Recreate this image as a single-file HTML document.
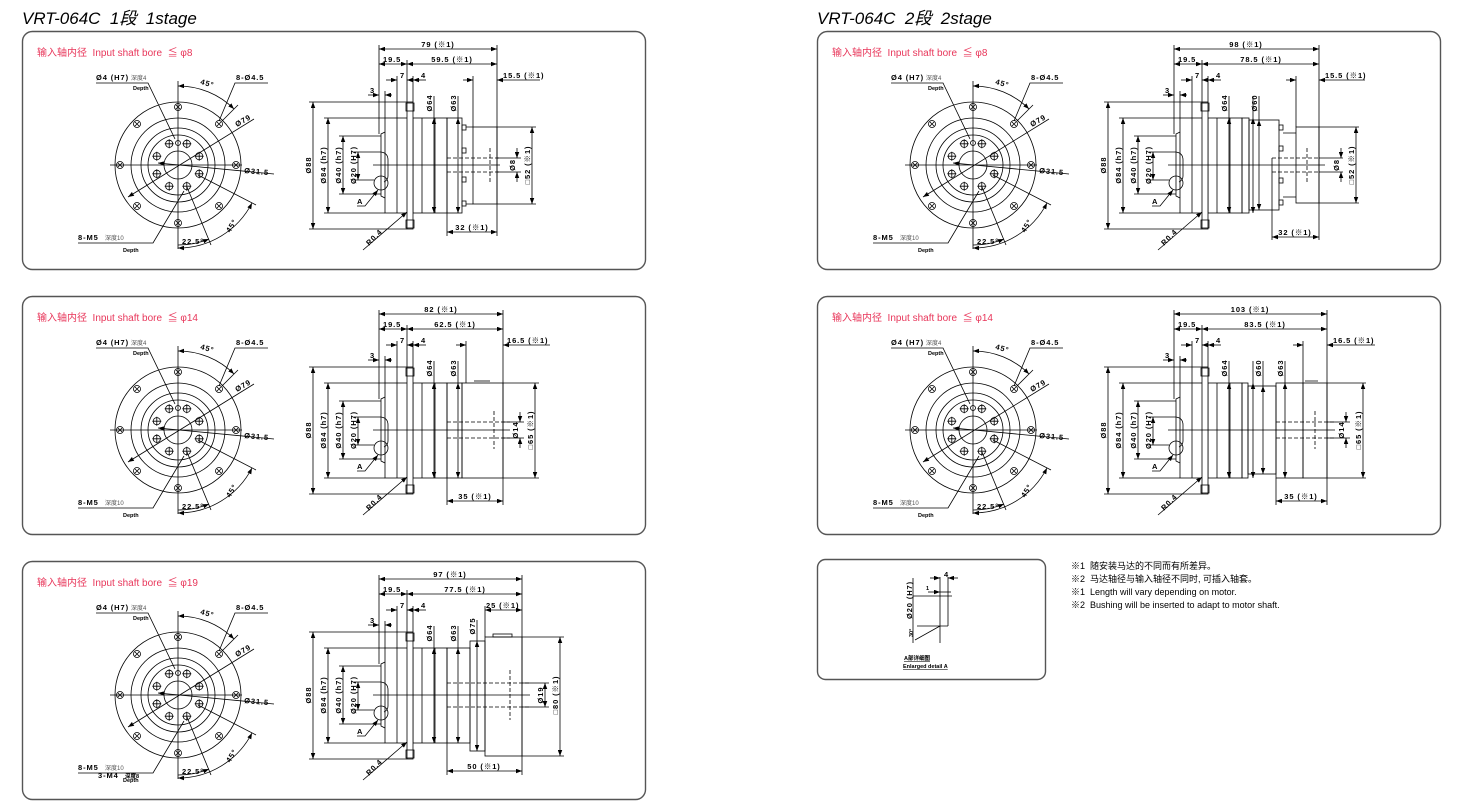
<!DOCTYPE html>
<html><head><meta charset="utf-8"><style>
html,body{margin:0;padding:0;background:#fff;}
svg{display:block;}
text{white-space:pre;}
.t{font-family:"Liberation Sans","Noto Sans CJK SC",sans-serif;font-size:7.5px;font-weight:bold;letter-spacing:0.9px;fill:#000;}
.s{font-family:"Liberation Sans","Noto Sans CJK SC",sans-serif;font-size:6px;fill:#555;}
.dp{font-family:"Liberation Sans",sans-serif;font-size:5.5px;font-weight:bold;fill:#000;}
.hd{font-family:"Liberation Sans","Noto Sans CJK SC",sans-serif;font-size:10px;fill:#e8365a;}
.ti{font-family:"Liberation Sans","Noto Sans CJK JP",sans-serif;font-size:17px;font-style:italic;fill:#000;}
.nt{font-family:"Liberation Sans","Noto Sans CJK SC",sans-serif;font-size:9px;fill:#000;}
.g line,.g path,.g rect,.g circle{stroke:#000;stroke-width:0.8;fill:none;}
.dash{stroke-dasharray:4 2;}
</style></head><body>
<svg width="1460" height="810" viewBox="0 0 1460 810" xmlns="http://www.w3.org/2000/svg">
<defs>
<marker id="a" viewBox="0 0 8 6" refX="8" refY="3" markerWidth="6" markerHeight="4.5" orient="auto-start-reverse" markerUnits="userSpaceOnUse"><path d="M0 0 L8 3 L0 6 Z" fill="#000" stroke="none"/></marker>
<g id="ho" fill="none" stroke="#000" stroke-width="0.8"><circle r="3.5" cx="0" cy="0"/><path d="M-2 -2 L2 2 M-2 2 L2 -2"/></g>
<g id="hi" fill="none" stroke="#000" stroke-width="0.8"><circle r="3.6" cx="0" cy="0"/><path d="M-4.5 0 H4.5 M0 -4.5 V4.5"/></g>
<g id="F" fill="none" stroke="#000" stroke-width="0.8">
<circle r="63"/><circle r="47"/><circle r="37"/><circle r="30"/><circle r="14"/>
<path d="M-68 0 H64 M0 -84 V84"/>
<use href="#ho" x="58" y="0"/><use href="#ho" x="41" y="-41"/><use href="#ho" x="0" y="-58"/><use href="#ho" x="-41" y="-41"/><use href="#ho" x="-58" y="0"/><use href="#ho" x="-41" y="41"/><use href="#ho" x="0" y="58"/><use href="#ho" x="41" y="41"/>
<use href="#hi" x="21.2" y="8.8"/><use href="#hi" x="8.8" y="21.2"/><use href="#hi" x="-8.8" y="21.2"/><use href="#hi" x="-21.2" y="8.8"/><use href="#hi" x="-21.2" y="-8.8"/><use href="#hi" x="-8.8" y="-21.2"/><use href="#hi" x="8.8" y="-21.2"/><use href="#hi" x="21.2" y="-8.8"/>
<circle cx="0" cy="-22" r="2.5"/>
<path d="M-82 -82 H-30 L-3 -26"/>
<path d="M90 -82 H57 L41 -44"/>
<path d="M0 -79 A79 79 0 0 1 56 -56" marker-start="url(#a)" marker-end="url(#a)"/>
<path d="M44 -44 L60 -60"/>
<path d="M-50 32 L76 -46" marker-start="url(#a)"/>
<path d="M-20 -2 L96 9" marker-start="url(#a)"/>
<path d="M0 83 A83 83 0 0 0 74 38" marker-start="url(#a)" marker-end="url(#a)"/>
<path d="M20 10 L78 40"/>
<path d="M0 80 A80 80 0 0 0 31 74" marker-end="url(#a)"/>
<path d="M9 22 L33 80"/>
<path d="M-100 78 H-25 L6 26"/>
</g>
<g id="L" fill="none" stroke="#000" stroke-width="0.8">
<rect x="385" y="118" width="62" height="95"/>
<path d="M397 118 V213 M413 118 V213 M422 118 V213 M435 118 V213"/>
<rect x="407" y="102" width="6" height="127" fill="#fff"/>
<rect x="406" y="103" width="8" height="8"/><rect x="406" y="220" width="8" height="8"/>
<path d="M385 132 L381 134 L381 196 L385 198"/>
<path d="M357 152 H381 Q388 153 388 160 V176 Q388 180 384 182 M357 180 H374"/>
<circle cx="381" cy="183" r="7"/>
<path d="M357 206 H365 L378 190" marker-end="url(#a)"/>
<path d="M309 102 H407 M309 229 H407 M324 118 H385 M324 213 H385 M339 136 H381 M339 194 H381 M354 152 H357 M354 180 H357"/>
<line x1="313" y1="102" x2="313" y2="229" marker-start="url(#a)" marker-end="url(#a)"/>
<line x1="328" y1="118" x2="328" y2="213" marker-start="url(#a)" marker-end="url(#a)"/>
<line x1="343" y1="136" x2="343" y2="194" marker-start="url(#a)" marker-end="url(#a)"/>
<line x1="358" y1="152" x2="358" y2="180" marker-start="url(#a)" marker-end="url(#a)"/>
<path d="M379 45 V134 M407 60 V102 M397 76 V118 M413 76 V102 M385 91 V118"/>
<line x1="379" y1="64" x2="407" y2="64" marker-start="url(#a)" marker-end="url(#a)"/>
<path d="M386 80 H397" marker-end="url(#a)"/><path d="M420 80 H407" marker-end="url(#a)"/><path d="M426 80 H413" marker-end="url(#a)"/>
<path d="M368 95 H379" marker-end="url(#a)"/><path d="M392 95 H385" marker-end="url(#a)"/>
<path d="M363 250 L407 212" marker-end="url(#a)"/>
<line x1="434" y1="118" x2="434" y2="213" marker-start="url(#a)" marker-end="url(#a)"/>
<line x1="458" y1="118" x2="458" y2="213" marker-start="url(#a)" marker-end="url(#a)"/>
<path d="M434 96 V118 M458 96 V118"/>
</g>
<g id="FT">
<text class="t" x="-82" y="-85">Ø4 (H7)</text><text class="s" x="-47" y="-85">深度4</text><text class="dp" x="-45" y="-75">Depth</text>
<text class="t" transform="translate(22,-81) rotate(15)">45°</text>
<text class="t" x="58" y="-85">8-Ø4.5</text>
<text class="t" transform="translate(59,-38) rotate(-30)">Ø79</text>
<text class="t" transform="translate(66,8) rotate(5)">Ø31.5</text>
<text class="t" transform="translate(52,68) rotate(-58)">45°</text>
<text class="t" x="4" y="79">22.5°</text>
<text class="t" x="-100" y="75">8-M5</text><text class="s" x="-73" y="75">深度10</text><text class="dp" x="-55" y="87">Depth</text>
</g>
<g id="LT">
<text class="t" x="383" y="62">19.5</text>
<text class="t" x="400" y="78">7</text><text class="t" x="421" y="78">4</text><text class="t" x="370" y="93">3</text>
<text class="t" text-anchor="middle" transform="translate(311,165) rotate(-90)">Ø88</text>
<text class="t" text-anchor="middle" transform="translate(326,165) rotate(-90)">Ø84 (h7)</text>
<text class="t" text-anchor="middle" transform="translate(341,165) rotate(-90)">Ø40 (h7)</text>
<text class="t" text-anchor="middle" transform="translate(356,165) rotate(-90)">Ø20 (H7)</text>
<text class="t" text-anchor="middle" transform="translate(432,103) rotate(-90)">Ø64</text>
<text class="t" x="357" y="204">A</text>
<text class="t" text-anchor="middle" transform="translate(376,239) rotate(-45)">R0.4</text>
</g>
</defs>

<text class="ti" x="22" y="24">VRT-064C  1段  1stage</text>
<text class="ti" x="817" y="24">VRT-064C  2段  2stage</text>

<g fill="none" stroke="#555" stroke-width="1.4">
<rect x="22.5" y="31.5" width="623" height="238" rx="10"/>
<rect x="22.5" y="296.5" width="623" height="238" rx="10"/>
<rect x="22.5" y="561.5" width="623" height="238" rx="10"/>
<rect x="817.5" y="31.5" width="623" height="238" rx="10"/>
<rect x="817.5" y="296.5" width="623" height="238" rx="10"/>
<rect x="817.5" y="559.5" width="228" height="120" rx="8"/>
</g>

<!-- Panel 1 -->
<g>
<text class="hd" x="37" y="56">输入轴内径  Input shaft bore  ≦ φ8</text>
<use href="#F" x="178" y="165"/>
<use href="#FT" x="178" y="165"/>
<use href="#L"/>
<g class="g">
<rect x="447" y="118" width="15" height="95"/>
<path d="M373 165 H500"/>
<rect x="473" y="127" width="24" height="77"/>
<rect x="462" y="125" width="4" height="5"/><rect x="462" y="148" width="4" height="5"/><rect x="462" y="177" width="4" height="5"/><rect x="462" y="201" width="4" height="5"/>
<path d="M466 127 H473 M466 204 H473"/>
<path class="dash" d="M447 158 H500 M447 172 H500 M490 148 V182"/>
<path d="M497 45 V236 M473 76 V127 M447 213 V236 M497 158 H521 M497 172 H521 M497 127 H536 M497 204 H536"/>
<line x1="379" y1="49" x2="497" y2="49" marker-start="url(#a)" marker-end="url(#a)"/>
<line x1="407" y1="64" x2="497" y2="64" marker-start="url(#a)" marker-end="url(#a)"/>
<path d="M463 80 H473" marker-end="url(#a)"/><path d="M540 80 H497" marker-end="url(#a)"/>
<path d="M517 148 V158" marker-end="url(#a)"/><path d="M517 182 V172" marker-end="url(#a)"/>
<line x1="532" y1="127" x2="532" y2="204" marker-start="url(#a)" marker-end="url(#a)"/>
<line x1="447" y1="232" x2="497" y2="232" marker-start="url(#a)" marker-end="url(#a)"/>
</g>
<use href="#LT"/>
<text class="t" text-anchor="middle" x="438" y="47">79 (※1)</text>
<text class="t" text-anchor="middle" x="452" y="62">59.5 (※1)</text>
<text class="t" x="503" y="78">15.5 (※1)</text>
<text class="t" text-anchor="middle" transform="translate(456,103) rotate(-90)">Ø63</text>
<text class="t" text-anchor="middle" transform="translate(515,165) rotate(-90)">Ø8</text>
<text class="t" text-anchor="middle" transform="translate(530,165) rotate(-90)">□52 (※1)</text>
<text class="t" text-anchor="middle" x="472" y="230">32 (※1)</text>
</g>

<!-- Panel 2 -->
<g transform="translate(0,265)">
<text class="hd" x="37" y="56">输入轴内径  Input shaft bore  ≦ φ14</text>
<use href="#F" x="178" y="165"/>
<use href="#FT" x="178" y="165"/>
<use href="#L"/>
<g class="g">
<rect x="447" y="118" width="15" height="95"/>
<path d="M373 165 H510"/>
<rect x="462" y="118" width="41" height="95"/>
<path d="M474 116 H490"/>
<path class="dash" d="M447 157 H510 M447 173 H510 M494 146 V184"/>
<path d="M503 45 V240 M466 76 V118 M447 213 V240 M503 157 H524 M503 173 H524 M503 118 H539 M503 213 H539"/>
<line x1="379" y1="49" x2="503" y2="49" marker-start="url(#a)" marker-end="url(#a)"/>
<line x1="407" y1="64" x2="503" y2="64" marker-start="url(#a)" marker-end="url(#a)"/>
<path d="M456 80 H466" marker-end="url(#a)"/><path d="M550 80 H503" marker-end="url(#a)"/>
<path d="M520 147 V157" marker-end="url(#a)"/><path d="M520 183 V173" marker-end="url(#a)"/>
<line x1="535" y1="118" x2="535" y2="213" marker-start="url(#a)" marker-end="url(#a)"/>
<line x1="447" y1="236" x2="503" y2="236" marker-start="url(#a)" marker-end="url(#a)"/>
</g>
<use href="#LT"/>
<text class="t" text-anchor="middle" x="441" y="47">82 (※1)</text>
<text class="t" text-anchor="middle" x="455" y="62">62.5 (※1)</text>
<text class="t" x="507" y="78">16.5 (※1)</text>
<text class="t" text-anchor="middle" transform="translate(456,103) rotate(-90)">Ø63</text>
<text class="t" text-anchor="middle" transform="translate(518,165) rotate(-90)">Ø14</text>
<text class="t" text-anchor="middle" transform="translate(533,165) rotate(-90)">□65 (※1)</text>
<text class="t" text-anchor="middle" x="475" y="234">35 (※1)</text>
</g>

<!-- Panel 3 -->
<g transform="translate(0,530)">
<text class="hd" x="37" y="56">输入轴内径  Input shaft bore  ≦ φ19</text>
<use href="#F" x="178" y="165"/>
<use href="#FT" x="178" y="165"/>
<text class="t" x="98" y="248">3-M4</text><text class="dp" x="125" y="248">深度8</text>
<use href="#L"/>
<g class="g">
<rect x="447" y="118" width="23" height="95"/>
<path d="M373 165 H530"/>
<rect x="470" y="111" width="15" height="110"/>
<rect x="485" y="107" width="37" height="119"/>
<rect x="493" y="104" width="19" height="3"/>
<path class="dash" d="M447 153 H530 M447 177 H530 M510 140 V190"/>
<path d="M477 90 V111 M485 76 V107 M522 45 V245 M447 213 V245 M522 153 H549 M522 177 H549 M522 107 H564 M522 226 H564"/>
<line x1="477" y1="111" x2="477" y2="221" marker-start="url(#a)" marker-end="url(#a)"/>
<line x1="379" y1="49" x2="522" y2="49" marker-start="url(#a)" marker-end="url(#a)"/>
<line x1="407" y1="64" x2="522" y2="64" marker-start="url(#a)" marker-end="url(#a)"/>
<line x1="485" y1="80" x2="522" y2="80" marker-start="url(#a)" marker-end="url(#a)"/>
<line x1="545" y1="153" x2="545" y2="177" marker-start="url(#a)" marker-end="url(#a)"/>
<line x1="560" y1="107" x2="560" y2="226" marker-start="url(#a)" marker-end="url(#a)"/>
<line x1="447" y1="241" x2="522" y2="241" marker-start="url(#a)" marker-end="url(#a)"/>
</g>
<use href="#LT"/>
<text class="t" text-anchor="middle" x="450" y="47">97 (※1)</text>
<text class="t" text-anchor="middle" x="465" y="62">77.5 (※1)</text>
<text class="t" x="486" y="78">25 (※1)</text>
<text class="t" text-anchor="middle" transform="translate(456,103) rotate(-90)">Ø63</text>
<text class="t" text-anchor="middle" transform="translate(475,96) rotate(-90)">Ø75</text>
<text class="t" text-anchor="middle" transform="translate(543,165) rotate(-90)">Ø19</text>
<text class="t" text-anchor="middle" transform="translate(558,165) rotate(-90)">□80 (※1)</text>
<text class="t" text-anchor="middle" x="484" y="239">50 (※1)</text>
</g>

<!-- Right panel 1 -->
<g transform="translate(795,0)">
<text class="hd" x="37" y="56">输入轴内径  Input shaft bore  ≦ φ8</text>
<use href="#F" x="178" y="165"/>
<use href="#FT" x="178" y="165"/>
<use href="#L"/>
<g class="g">
<rect x="447" y="118" width="7" height="95"/>
<rect x="454" y="120" width="30" height="90"/>
<path d="M373 165 H530"/>
<rect x="484" y="125" width="4" height="5"/><rect x="484" y="146" width="4" height="5"/><rect x="484" y="178" width="4" height="5"/><rect x="484" y="200" width="4" height="5"/>
<rect x="501" y="127" width="23" height="76"/>
<path d="M488 133 H501 M488 197 H501"/>
<path class="dash" d="M477 158 H525 M477 172 H525 M512 148 V182"/>
<path d="M477 158 V172 M477 172 V240 M524 45 V240 M501 76 V127 M524 158 H548 M524 172 H548 M524 127 H564 M524 203 H564"/>
<line x1="379" y1="49" x2="524" y2="49" marker-start="url(#a)" marker-end="url(#a)"/>
<line x1="407" y1="64" x2="524" y2="64" marker-start="url(#a)" marker-end="url(#a)"/>
<path d="M491 80 H501" marker-end="url(#a)"/><path d="M570 80 H524" marker-end="url(#a)"/>
<path d="M546 148 V158" marker-end="url(#a)"/><path d="M546 182 V172" marker-end="url(#a)"/>
<line x1="561" y1="127" x2="561" y2="203" marker-start="url(#a)" marker-end="url(#a)"/>
<line x1="477" y1="237" x2="524" y2="237" marker-start="url(#a)" marker-end="url(#a)"/>
<line x1="464" y1="120" x2="464" y2="210" marker-start="url(#a)" marker-end="url(#a)"/>
<path d="M464 96 V120"/>
</g>
<use href="#LT"/>
<text class="t" text-anchor="middle" x="451" y="47">98 (※1)</text>
<text class="t" text-anchor="middle" x="466" y="62">78.5 (※1)</text>
<text class="t" x="530" y="78">15.5 (※1)</text>
<text class="t" text-anchor="middle" transform="translate(462,103) rotate(-90)">Ø60</text>
<text class="t" text-anchor="middle" transform="translate(544,165) rotate(-90)">Ø8</text>
<text class="t" text-anchor="middle" transform="translate(559,165) rotate(-90)">□52 (※1)</text>
<text class="t" text-anchor="middle" x="500" y="235">32 (※1)</text>
</g>

<!-- Right panel 2 -->
<g transform="translate(795,265)">
<text class="hd" x="37" y="56">输入轴内径  Input shaft bore  ≦ φ14</text>
<use href="#F" x="178" y="165"/>
<use href="#FT" x="178" y="165"/>
<use href="#L"/>
<g class="g">
<rect x="447" y="118" width="6" height="95"/>
<rect x="453" y="121" width="28" height="88"/>
<rect x="481" y="118" width="27" height="95"/>
<rect x="508" y="118" width="24" height="95"/>
<path d="M373 165 H540 M510 116 H523"/>
<path class="dash" d="M481 157 H540 M481 173 H540 M520 146 V184"/>
<path d="M481 213 V240 M532 45 V240 M508 76 V118 M532 157 H555 M532 173 H555 M532 118 H571 M532 213 H571 M468 96 V121 M490 96 V118"/>
<line x1="468" y1="121" x2="468" y2="209" marker-start="url(#a)" marker-end="url(#a)"/>
<line x1="490" y1="118" x2="490" y2="213" marker-start="url(#a)" marker-end="url(#a)"/>
<line x1="379" y1="49" x2="532" y2="49" marker-start="url(#a)" marker-end="url(#a)"/>
<line x1="407" y1="64" x2="532" y2="64" marker-start="url(#a)" marker-end="url(#a)"/>
<path d="M498 80 H508" marker-end="url(#a)"/><path d="M580 80 H532" marker-end="url(#a)"/>
<path d="M551 147 V157" marker-end="url(#a)"/><path d="M551 183 V173" marker-end="url(#a)"/>
<line x1="568" y1="118" x2="568" y2="213" marker-start="url(#a)" marker-end="url(#a)"/>
<line x1="481" y1="236" x2="532" y2="236" marker-start="url(#a)" marker-end="url(#a)"/>
</g>
<use href="#LT"/>
<text class="t" text-anchor="middle" x="455" y="47">103 (※1)</text>
<text class="t" text-anchor="middle" x="470" y="62">83.5 (※1)</text>
<text class="t" x="538" y="78">16.5 (※1)</text>
<text class="t" text-anchor="middle" transform="translate(466,103) rotate(-90)">Ø60</text>
<text class="t" text-anchor="middle" transform="translate(488,103) rotate(-90)">Ø63</text>
<text class="t" text-anchor="middle" transform="translate(549,165) rotate(-90)">Ø14</text>
<text class="t" text-anchor="middle" transform="translate(566,165) rotate(-90)">□65 (※1)</text>
<text class="t" text-anchor="middle" x="506" y="234">35 (※1)</text>
</g>

<!-- Detail A -->
<g class="g">
<path d="M913 578 V643 M913 596 H952 M940 577 V643 M948 577 V626 M917 626 H948 M940 626 L915 640"/>
<path d="M930 578 H940" marker-end="url(#a)"/><path d="M958 578 H948" marker-end="url(#a)"/>
<path d="M928 592 H940" marker-end="url(#a)"/><path d="M951 592 H940"/>
</g>
<text class="t" text-anchor="middle" transform="translate(912,600) rotate(-90)">Ø20 (H7)</text>
<text class="dp" x="926" y="590">1</text><text class="t" x="944" y="577">4</text>
<text class="dp" transform="translate(913,637) rotate(-90)">30°</text>
<text class="dp" x="904" y="660" font-weight="normal" text-decoration="underline">A部详细图</text>
<text class="dp" x="903" y="668" font-weight="normal" text-decoration="underline">Enlarged detail A</text>

<text class="nt" x="1071" y="569">※1  随安装马达的不同而有所差异。</text>
<text class="nt" x="1071" y="582">※2  马达轴径与输入轴径不同时, 可插入轴套。</text>
<text class="nt" x="1071" y="595" font-size="8.5">※1  Length will vary depending on motor.</text>
<text class="nt" x="1071" y="608" font-size="8.5">※2  Bushing will be inserted to adapt to motor shaft.</text>
</svg>
</body></html>
